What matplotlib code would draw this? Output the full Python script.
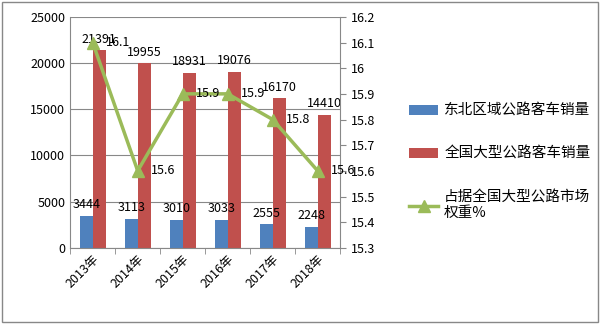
import numpy as np
import matplotlib.pyplot as plt

plt.rcParams['font.family'] = ['Noto Sans CJK SC', 'DejaVu Sans']

years = ['2013年', '2014年', '2015年', '2016年', '2017年', '2018年']
northeast = [3444, 3113, 3010, 3033, 2555, 2248]
national = [21391, 19955, 18931, 19076, 16170, 14410]
share = [16.1, 15.6, 15.9, 15.9, 15.8, 15.6]

blue = '#4F81BD'
red = '#C0504D'
green = '#9BBB59'

fig = plt.figure( figsize = ( 6, 3.24 ), dpi = 100 )
ax = fig.add_axes( [0.117, 0.235, 0.45, 0.713] )
x = np.arange( len( years ) )
w = 0.29

b1 = ax.bar( x - w / 2, northeast, w, color = blue, label = '东北区域公路客车销量', zorder = 2 )
b2 = ax.bar( x + w / 2, national, w, color = red, label = '全国大型公路客车销量', zorder = 2 )
# value labels above the bars
for xi, v in zip( x, northeast ) :
	ax.text( xi - w / 2, v + 500, str( v ), ha = 'center', va = 'bottom', fontsize = 9 )
for xi, v in zip( x, national ) :
	ax.text( xi + w / 2, v + 500, str( v ), ha = 'center', va = 'bottom', fontsize = 9 )

ax.set_xlim( -0.5, len( years ) - 0.5 )
ax.set_ylim( 0, 25000 )
ax.set_yticks( range( 0, 25001, 5000 ) )
ax.yaxis.grid( True, color = '#888888', linewidth = 0.8, zorder = 0 )
ax.set_axisbelow( True )
ax.set_xticks( x )
ax.set_xticklabels( years, rotation = 45, ha = 'right', rotation_mode = 'anchor', fontsize = 9 )
ax.set_xticks( np.arange( -0.5, len( years ), 1 ), minor = True )
ax.tick_params( axis = 'x', which = 'major', length = 0 )
ax.tick_params( axis = 'x', which = 'minor', length = 4, color = '#888888' )
ax.tick_params( axis = 'y', length = 0, labelsize = 9 )
for s in ['top', 'right'] :
	ax.spines[s].set_visible( False )
ax.spines['left'].set_color( '#888888' )
ax.spines['bottom'].set_color( '#888888' )

# share line on the right axis
ax2 = ax.twinx()
l1, = ax2.plot( x, share, color = green, linewidth = 2.5, marker = '^', markersize = 8, label = '占据全国大型公路市场\n权重%', zorder = 3 )
for xi, v in zip( x, share ) :
	ax2.text( xi + 0.3, v, '%g' % v, ha = 'left', va = 'center', fontsize = 9 )
ticks2 = np.round( np.arange( 15.3, 16.21, 0.1 ), 1 )
ax2.set_ylim( 15.3, 16.2 )
ax2.set_yticks( ticks2 )
ax2.set_yticklabels( ['%g' % t for t in ticks2] )
ax2.tick_params( axis = 'y', length = 4, color = '#888888', labelsize = 9 )
for s in ['top', 'left', 'bottom'] :
	ax2.spines[s].set_visible( False )
ax2.spines['right'].set_color( '#888888' )

fig.legend( handles = [b1, b2, l1], loc = 'upper left', bbox_to_anchor = ( 0.66, 0.72 ), frameon = False, fontsize = 10.5, labelspacing = 2.0, handlelength = 2.0, handletextpad = 0.4 )

fig.patches.append( plt.Rectangle( ( 0.003, 0.005 ), 0.994, 0.99, transform = fig.transFigure, fill = False, edgecolor = '#888888', linewidth = 1 ) )

fig.savefig( 'out.png', dpi = 100 )
